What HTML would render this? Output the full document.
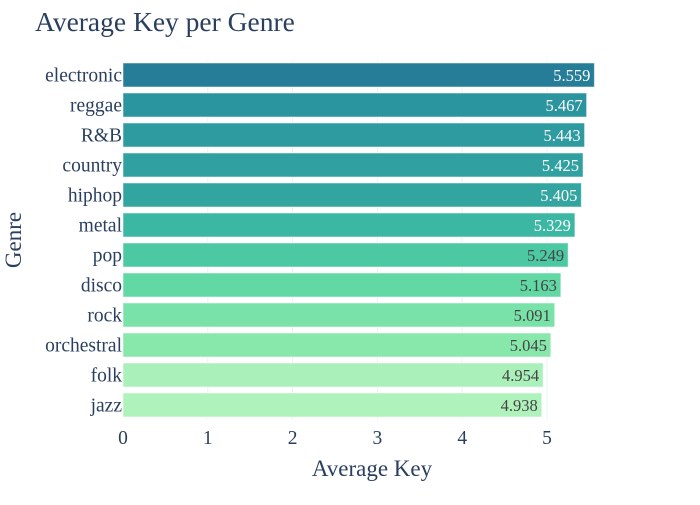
<!DOCTYPE html>
<html><head><meta charset="utf-8"><style>
body{margin:0;background:#fff}
svg{font-family:"Liberation Serif",serif}
</style></head><body>
<svg id="c" width="700" height="500">
<text x="35" y="31" font-size="27.5" fill="#2a3f5f">Average Key per Genre</text>
<text x="372" y="476" font-size="23" fill="#2a3f5f" text-anchor="middle">Average Key</text>
<text transform="translate(21,240) rotate(-90)" font-size="23" fill="#2a3f5f" text-anchor="middle">Genre</text>
<g id="grid"></g><g id="bars"></g><g id="ticks"></g>
</svg>
<script>
const genres=["electronic","reggae","R&B","country","hiphop","metal","pop","disco","rock","orchestral","folk","jazz"];
const values=[5.559,5.467,5.443,5.425,5.405,5.329,5.249,5.163,5.091,5.045,4.954,4.938];
const xTicks=[0,1,2,3,4,5];
const NS="http://www.w3.org/2000/svg";
const x0=123,ppu=84.8,plotTop=60,pitch=30,bh=24;
const xs=v=>x0+v*ppu;
const pal=[[176,242,188],[137,232,172],[103,219,165],[76,200,163],[56,178,163],[44,152,160],[37,125,152]];
function col(t){const s=t*(pal.length-1);const i=Math.min(Math.floor(s),pal.length-2);const f=s-i;
return pal[i].map((c,k)=>Math.round(c+(pal[i+1][k]-c)*f));}
function mk(tag,a,p){const e=document.createElementNS(NS,tag);for(const k in a)e.setAttribute(k,a[k]);p.appendChild(e);return e;}
const g=document.getElementById('grid'),b=document.getElementById('bars'),tk=document.getElementById('ticks');
xTicks.forEach(t=>{const l=mk('line',{x1:xs(t),x2:xs(t),y1:plotTop,y2:plotTop+pitch*genres.length,stroke:t==0?'#fff':'#ebf0f8','stroke-width':1},g);


const tx=mk('text',{x:xs(t),y:444,'font-size':19.5,fill:'#2a3f5f','text-anchor':'middle'},tk);tx.textContent=t;

});
const mn=Math.min(...values),mx=Math.max(...values);
genres.forEach((gname,i)=>{const v=values[i];const c=col((v-mn)/(mx-mn));const y=plotTop+i*pitch+(pitch-bh)/2;
const r=mk('rect',{x:x0,y:y,width:xs(v)-x0,height:bh,fill:`rgb(${c})`,stroke:'rgba(255,255,255,0.5)','stroke-width':1},b);


const lum=0.299*c[0]+0.587*c[1]+0.114*c[2];
const vt=mk('text',{x:xs(v)-4,y:y+bh/2+6,'font-size':16.5,'text-anchor':'end',fill:lum<150?'#fff':'#444'},b);vt.textContent=v.toFixed(3);


const lt=mk('text',{x:x0-1,y:y+bh/2+6.5,'font-size':19.5,'text-anchor':'end',fill:'#2a3f5f'},tk);lt.textContent=gname;

});
</script>
</body></html>
